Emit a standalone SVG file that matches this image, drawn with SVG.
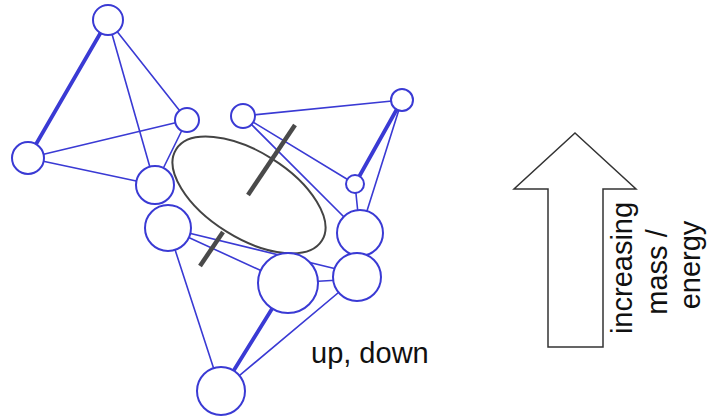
<svg xmlns="http://www.w3.org/2000/svg" width="708" height="419" viewBox="0 0 708 419">
<style>
.e{stroke:#3a3ad4;stroke-width:1.6;fill:none;stroke-linecap:round}
.t{stroke-width:3.8}
.n{fill:#fff;stroke:#3a3ad4;stroke-width:2}
.stick{stroke:#4a4a4a;stroke-width:4.5;stroke-linecap:butt}
.lbl{font-family:"Liberation Sans",Arial,sans-serif;font-size:29px;fill:#111}
</style>
<rect width="708" height="419" fill="#fff"/>
<g id="connectors">
<line class="e t" x1="108" y1="20" x2="28" y2="158"/>
<line class="e" x1="108" y1="20" x2="155" y2="185"/>
<line class="e" x1="108" y1="20" x2="187" y2="120"/>
<line class="e" x1="28" y1="158" x2="187" y2="120"/>
<line class="e" x1="28" y1="158" x2="155" y2="185"/>
<line class="e" x1="187" y1="120" x2="155" y2="185"/>
<line class="e" x1="243" y1="116" x2="402" y2="100"/>
<line class="e" x1="243" y1="116" x2="355" y2="184"/>
<line class="e" x1="243" y1="116" x2="360" y2="233"/>
<line class="e t" x1="402" y1="100" x2="355" y2="184"/>
<line class="e" x1="402" y1="100" x2="360" y2="233"/>
<line class="e" x1="355" y1="184" x2="360" y2="233"/>
<line class="e" x1="168" y1="228" x2="288" y2="283"/>
<line class="e" x1="168" y1="228" x2="357" y2="274"/>
<line class="e" x1="288" y1="283" x2="357" y2="279"/>
<line class="e" x1="168" y1="228" x2="221" y2="391"/>
<line class="e t" x1="288" y1="283" x2="221" y2="391"/>
<line class="e" x1="357" y1="277" x2="221" y2="391"/>
</g>
<g id="spin">
<ellipse cx="249" cy="195" rx="86" ry="43" transform="rotate(32 249 195)" fill="none" stroke="#444" stroke-width="2"/>
<line class="stick" x1="248" y1="195" x2="295" y2="125"/>
<line class="stick" x1="200" y1="266" x2="223" y2="232"/>
</g>
<g id="nA"><circle class="n" cx="108" cy="20" r="15"/></g>
<g id="nB"><circle class="n" cx="187" cy="120" r="12"/></g>
<g id="nC"><circle class="n" cx="28" cy="158" r="16"/></g>
<g id="nD"><circle class="n" cx="155" cy="185" r="19"/></g>
<g id="nE"><circle class="n" cx="168" cy="228" r="23"/></g>
<g id="nF"><circle class="n" cx="243" cy="116" r="12"/></g>
<g id="nG"><circle class="n" cx="402" cy="100" r="11"/></g>
<g id="nH"><circle class="n" cx="355" cy="184" r="9"/></g>
<g id="nI"><circle class="n" cx="360" cy="233" r="23"/></g>
<g id="nK"><circle class="n" cx="357" cy="277" r="24"/></g>
<g id="nJ"><circle class="n" cx="288" cy="283" r="30"/></g>
<g id="nL"><circle class="n" cx="221" cy="391" r="24"/></g>
<g id="label-updown"><text class="lbl" x="311" y="363">up, down</text></g>
<g id="arrow">
<polygon points="575,133 636,189 603,189 603,347 548,347 548,189 514,189" fill="#fff" stroke="#333" stroke-width="1.5" stroke-linejoin="miter"/>
<text class="lbl" text-anchor="middle" transform="translate(632 268) rotate(-90)">increasing</text>
<text class="lbl" text-anchor="middle" transform="translate(667 272) rotate(-90)">mass /</text>
<text class="lbl" text-anchor="middle" transform="translate(700 265) rotate(-90)">energy</text>
</g>
</svg>
